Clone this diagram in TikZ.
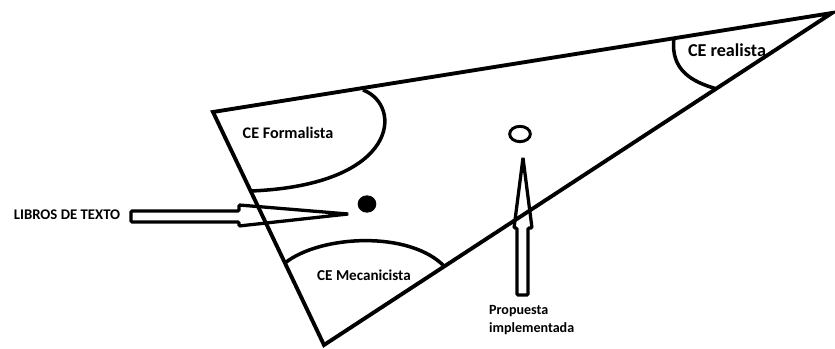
\documentclass[tikz,border=0pt]{standalone}
\usepackage{fontspec}
\setmainfont{Carlito}
\begin{document}
\begin{tikzpicture}[x=0.03cm,y=-0.03cm]
\useasboundingbox (0,0) rectangle (835,349);
\coordinate (A) at (213,112);
\coordinate (B) at (832,13);
\coordinate (C) at (324,345);
% triangulo
\draw[line width=3.3pt] (A)--(B)--(C)--cycle;
% arcos
\draw[line width=3pt] (363,90) .. controls (403,105) and (400,185) .. (251,191);
\draw[line width=3pt] (285,263) .. controls (320,235) and (410,230) .. (445,267);
\draw[line width=3pt] (674,38) .. controls (670,70) and (692,82) .. (717,89);
% flechas
\draw[line width=2.8pt,rounded corners=1pt] (131,211)--(239,211)--(239,205)--(348,214)--(239,226)--(239,222)--(131,222)--cycle;
\draw[line width=2.8pt,rounded corners=1pt] (517,295)--(517,228)--(514,228)--(523,158)--(532,228)--(528,228)--(528,295)--cycle;
% puntos
\fill (367,204) ellipse (0.28cm and 0.26cm);
\draw[line width=2.5pt] (520,134) ellipse (0.31cm and 0.23cm);
% textos
\draw (288,133) node[font=\bfseries\fontsize{13.8}{16}\selectfont]{CE Formalista};
\draw (364,275) node[font=\bfseries\fontsize{12.9}{15}\selectfont]{CE Mecanicista};
\draw (727,50) node[font=\bfseries\fontsize{15.5}{18}\selectfont]{CE realista};
\draw (67,215) node[font=\bfseries\fontsize{12.6}{14}\selectfont]{LIBROS DE TEXTO};
\draw (485,320) node[right,align=left,font=\bfseries\fontsize{12}{16}\selectfont]{Propuesta\\implementada};
\end{tikzpicture}
\end{document}
